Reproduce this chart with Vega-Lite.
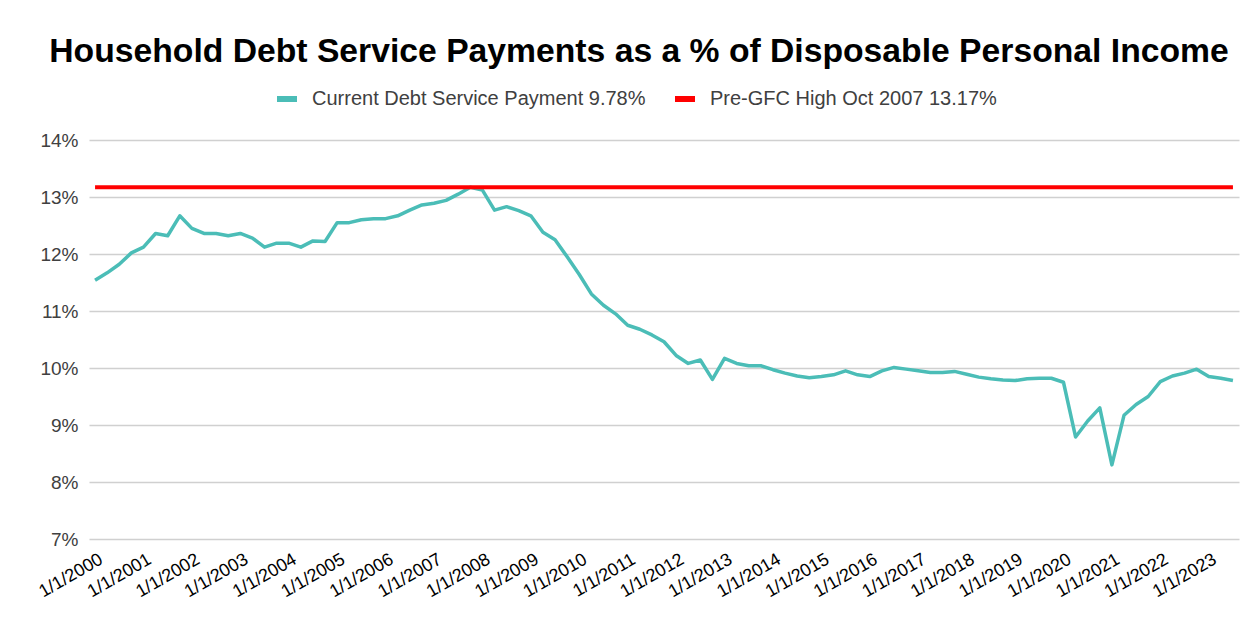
{
  "$schema": "https://vega.github.io/schema/vega-lite/v6.json",
  "width": 1150,
  "height": 399,
  "autosize": {"type": "none"},
  "padding": {"left": 89, "top": 140, "right": 15, "bottom": 87},
  "background": "white",
  "config": {"font": "Liberation Sans", "view": {"stroke": null}},
  "title": {
    "text": "Household Debt Service Payments as a % of Disposable Personal Income",
    "fontSize": 33.7,
    "fontWeight": "bold",
    "color": "#000000",
    "anchor": "middle",
    "dx": -25,
    "offset": 20
  },
  "datasets": {
    "debt": [
      {"date": "1/1/2000", "value": 11.54, "series": "Current Debt Service Payment 9.78%"},
      {"date": "4/1/2000", "value": 11.67, "series": "Current Debt Service Payment 9.78%"},
      {"date": "7/1/2000", "value": 11.82, "series": "Current Debt Service Payment 9.78%"},
      {"date": "10/1/2000", "value": 12.02, "series": "Current Debt Service Payment 9.78%"},
      {"date": "1/1/2001", "value": 12.12, "series": "Current Debt Service Payment 9.78%"},
      {"date": "4/1/2001", "value": 12.36, "series": "Current Debt Service Payment 9.78%"},
      {"date": "7/1/2001", "value": 12.32, "series": "Current Debt Service Payment 9.78%"},
      {"date": "10/1/2001", "value": 12.67, "series": "Current Debt Service Payment 9.78%"},
      {"date": "1/1/2002", "value": 12.45, "series": "Current Debt Service Payment 9.78%"},
      {"date": "4/1/2002", "value": 12.36, "series": "Current Debt Service Payment 9.78%"},
      {"date": "7/1/2002", "value": 12.36, "series": "Current Debt Service Payment 9.78%"},
      {"date": "10/1/2002", "value": 12.32, "series": "Current Debt Service Payment 9.78%"},
      {"date": "1/1/2003", "value": 12.36, "series": "Current Debt Service Payment 9.78%"},
      {"date": "4/1/2003", "value": 12.28, "series": "Current Debt Service Payment 9.78%"},
      {"date": "7/1/2003", "value": 12.12, "series": "Current Debt Service Payment 9.78%"},
      {"date": "10/1/2003", "value": 12.19, "series": "Current Debt Service Payment 9.78%"},
      {"date": "1/1/2004", "value": 12.19, "series": "Current Debt Service Payment 9.78%"},
      {"date": "4/1/2004", "value": 12.12, "series": "Current Debt Service Payment 9.78%"},
      {"date": "7/1/2004", "value": 12.23, "series": "Current Debt Service Payment 9.78%"},
      {"date": "10/1/2004", "value": 12.22, "series": "Current Debt Service Payment 9.78%"},
      {"date": "1/1/2005", "value": 12.55, "series": "Current Debt Service Payment 9.78%"},
      {"date": "4/1/2005", "value": 12.55, "series": "Current Debt Service Payment 9.78%"},
      {"date": "7/1/2005", "value": 12.6, "series": "Current Debt Service Payment 9.78%"},
      {"date": "10/1/2005", "value": 12.62, "series": "Current Debt Service Payment 9.78%"},
      {"date": "1/1/2006", "value": 12.62, "series": "Current Debt Service Payment 9.78%"},
      {"date": "4/1/2006", "value": 12.67, "series": "Current Debt Service Payment 9.78%"},
      {"date": "7/1/2006", "value": 12.77, "series": "Current Debt Service Payment 9.78%"},
      {"date": "10/1/2006", "value": 12.86, "series": "Current Debt Service Payment 9.78%"},
      {"date": "1/1/2007", "value": 12.89, "series": "Current Debt Service Payment 9.78%"},
      {"date": "4/1/2007", "value": 12.94, "series": "Current Debt Service Payment 9.78%"},
      {"date": "7/1/2007", "value": 13.05, "series": "Current Debt Service Payment 9.78%"},
      {"date": "10/1/2007", "value": 13.17, "series": "Current Debt Service Payment 9.78%"},
      {"date": "1/1/2008", "value": 13.12, "series": "Current Debt Service Payment 9.78%"},
      {"date": "4/1/2008", "value": 12.77, "series": "Current Debt Service Payment 9.78%"},
      {"date": "7/1/2008", "value": 12.83, "series": "Current Debt Service Payment 9.78%"},
      {"date": "10/1/2008", "value": 12.76, "series": "Current Debt Service Payment 9.78%"},
      {"date": "1/1/2009", "value": 12.67, "series": "Current Debt Service Payment 9.78%"},
      {"date": "4/1/2009", "value": 12.38, "series": "Current Debt Service Payment 9.78%"},
      {"date": "7/1/2009", "value": 12.25, "series": "Current Debt Service Payment 9.78%"},
      {"date": "10/1/2009", "value": 11.95, "series": "Current Debt Service Payment 9.78%"},
      {"date": "1/1/2010", "value": 11.64, "series": "Current Debt Service Payment 9.78%"},
      {"date": "4/1/2010", "value": 11.3, "series": "Current Debt Service Payment 9.78%"},
      {"date": "7/1/2010", "value": 11.1, "series": "Current Debt Service Payment 9.78%"},
      {"date": "10/1/2010", "value": 10.95, "series": "Current Debt Service Payment 9.78%"},
      {"date": "1/1/2011", "value": 10.75, "series": "Current Debt Service Payment 9.78%"},
      {"date": "4/1/2011", "value": 10.68, "series": "Current Debt Service Payment 9.78%"},
      {"date": "7/1/2011", "value": 10.58, "series": "Current Debt Service Payment 9.78%"},
      {"date": "10/1/2011", "value": 10.46, "series": "Current Debt Service Payment 9.78%"},
      {"date": "1/1/2012", "value": 10.22, "series": "Current Debt Service Payment 9.78%"},
      {"date": "4/1/2012", "value": 10.08, "series": "Current Debt Service Payment 9.78%"},
      {"date": "7/1/2012", "value": 10.14, "series": "Current Debt Service Payment 9.78%"},
      {"date": "10/1/2012", "value": 9.8, "series": "Current Debt Service Payment 9.78%"},
      {"date": "1/1/2013", "value": 10.17, "series": "Current Debt Service Payment 9.78%"},
      {"date": "4/1/2013", "value": 10.08, "series": "Current Debt Service Payment 9.78%"},
      {"date": "7/1/2013", "value": 10.04, "series": "Current Debt Service Payment 9.78%"},
      {"date": "10/1/2013", "value": 10.04, "series": "Current Debt Service Payment 9.78%"},
      {"date": "1/1/2014", "value": 9.97, "series": "Current Debt Service Payment 9.78%"},
      {"date": "4/1/2014", "value": 9.91, "series": "Current Debt Service Payment 9.78%"},
      {"date": "7/1/2014", "value": 9.86, "series": "Current Debt Service Payment 9.78%"},
      {"date": "10/1/2014", "value": 9.83, "series": "Current Debt Service Payment 9.78%"},
      {"date": "1/1/2015", "value": 9.85, "series": "Current Debt Service Payment 9.78%"},
      {"date": "4/1/2015", "value": 9.88, "series": "Current Debt Service Payment 9.78%"},
      {"date": "7/1/2015", "value": 9.95, "series": "Current Debt Service Payment 9.78%"},
      {"date": "10/1/2015", "value": 9.88, "series": "Current Debt Service Payment 9.78%"},
      {"date": "1/1/2016", "value": 9.85, "series": "Current Debt Service Payment 9.78%"},
      {"date": "4/1/2016", "value": 9.95, "series": "Current Debt Service Payment 9.78%"},
      {"date": "7/1/2016", "value": 10.01, "series": "Current Debt Service Payment 9.78%"},
      {"date": "10/1/2016", "value": 9.98, "series": "Current Debt Service Payment 9.78%"},
      {"date": "1/1/2017", "value": 9.95, "series": "Current Debt Service Payment 9.78%"},
      {"date": "4/1/2017", "value": 9.92, "series": "Current Debt Service Payment 9.78%"},
      {"date": "7/1/2017", "value": 9.92, "series": "Current Debt Service Payment 9.78%"},
      {"date": "10/1/2017", "value": 9.94, "series": "Current Debt Service Payment 9.78%"},
      {"date": "1/1/2018", "value": 9.89, "series": "Current Debt Service Payment 9.78%"},
      {"date": "4/1/2018", "value": 9.84, "series": "Current Debt Service Payment 9.78%"},
      {"date": "7/1/2018", "value": 9.81, "series": "Current Debt Service Payment 9.78%"},
      {"date": "10/1/2018", "value": 9.79, "series": "Current Debt Service Payment 9.78%"},
      {"date": "1/1/2019", "value": 9.78, "series": "Current Debt Service Payment 9.78%"},
      {"date": "4/1/2019", "value": 9.81, "series": "Current Debt Service Payment 9.78%"},
      {"date": "7/1/2019", "value": 9.82, "series": "Current Debt Service Payment 9.78%"},
      {"date": "10/1/2019", "value": 9.82, "series": "Current Debt Service Payment 9.78%"},
      {"date": "1/1/2020", "value": 9.75, "series": "Current Debt Service Payment 9.78%"},
      {"date": "4/1/2020", "value": 8.79, "series": "Current Debt Service Payment 9.78%"},
      {"date": "7/1/2020", "value": 9.07, "series": "Current Debt Service Payment 9.78%"},
      {"date": "10/1/2020", "value": 9.3, "series": "Current Debt Service Payment 9.78%"},
      {"date": "1/1/2021", "value": 8.3, "series": "Current Debt Service Payment 9.78%"},
      {"date": "4/1/2021", "value": 9.17, "series": "Current Debt Service Payment 9.78%"},
      {"date": "7/1/2021", "value": 9.36, "series": "Current Debt Service Payment 9.78%"},
      {"date": "10/1/2021", "value": 9.5, "series": "Current Debt Service Payment 9.78%"},
      {"date": "1/1/2022", "value": 9.76, "series": "Current Debt Service Payment 9.78%"},
      {"date": "4/1/2022", "value": 9.86, "series": "Current Debt Service Payment 9.78%"},
      {"date": "7/1/2022", "value": 9.91, "series": "Current Debt Service Payment 9.78%"},
      {"date": "10/1/2022", "value": 9.98, "series": "Current Debt Service Payment 9.78%"},
      {"date": "1/1/2023", "value": 9.85, "series": "Current Debt Service Payment 9.78%"},
      {"date": "4/1/2023", "value": 9.82, "series": "Current Debt Service Payment 9.78%"},
      {"date": "7/1/2023", "value": 9.78, "series": "Current Debt Service Payment 9.78%"}
    ],
    "gfc": [
      {"start": "1/1/2000", "end": "7/1/2023", "value": 13.17, "series": "Pre-GFC High Oct 2007 13.17%"}
    ]
  },
  "layer": [
    {
      "data": {"name": "debt"},
      "mark": {"type": "line", "strokeWidth": 3.5, "strokeJoin": "round"},
      "encoding": {
        "x": {
          "field": "date",
          "type": "ordinal",
          "sort": null,
          "scale": {"type": "point", "padding": 0.5},
          "axis": {
            "title": null,
            "values": ["1/1/2000","1/1/2001","1/1/2002","1/1/2003","1/1/2004","1/1/2005","1/1/2006","1/1/2007","1/1/2008","1/1/2009","1/1/2010","1/1/2011","1/1/2012","1/1/2013","1/1/2014","1/1/2015","1/1/2016","1/1/2017","1/1/2018","1/1/2019","1/1/2020","1/1/2021","1/1/2022","1/1/2023"],
            "labelAngle": -30,
            "labelAlign": "right",
            "labelBaseline": "middle",
            "labelFontSize": 18,
            "labelColor": "#000000",
            "labelPadding": 19,
            "labelOffset": 6,
            "labelOverlap": false,
            "labelBound": false,
            "labelFlush": false,
            "ticks": false,
            "domain": false,
            "grid": false
          }
        },
        "y": {
          "field": "value",
          "type": "quantitative",
          "scale": {"domain": [7, 14], "nice": false, "zero": false},
          "axis": {
            "title": null,
            "values": [7, 8, 9, 10, 11, 12, 13, 14],
            "labelExpr": "datum.value + '%'",
            "labelFontSize": 19,
            "labelColor": "#404040",
            "labelPadding": 11,
            "ticks": false,
            "domain": false,
            "grid": true,
            "gridColor": "#d0d0d0",
            "gridWidth": 1.5
          }
        },
        "color": {
          "field": "series",
          "type": "nominal",
          "scale": {
            "domain": ["Current Debt Service Payment 9.78%", "Pre-GFC High Oct 2007 13.17%"],
            "range": ["#4BBDB7", "#FF0000"]
          },
          "legend": {
            "title": null,
            "orient": "none",
            "direction": "horizontal",
            "legendX": 188,
            "legendY": -51,
            "padding": 0,
            "symbolType": "M-1,-0.3H1V0.3H-1Z",
            "symbolSize": 400,
            "symbolStrokeWidth": 0,
            "labelFontSize": 20,
            "labelColor": "#404040",
            "labelOffset": 15,
            "columnPadding": 29,
            "labelLimit": 500,
            "encode": {"symbols": {"update": {"fill": {"scale": "color", "field": "value"}, "fillOpacity": {"value": 1}, "strokeWidth": {"value": 0}}}}
          }
        }
      }
    },
    {
      "data": {"name": "gfc"},
      "mark": {"type": "rule", "strokeWidth": 4},
      "encoding": {
        "x": {"field": "start", "type": "ordinal", "sort": null},
        "x2": {"field": "end"},
        "y": {"field": "value", "type": "quantitative"},
        "color": {"field": "series", "type": "nominal"}
      }
    }
  ]
}
